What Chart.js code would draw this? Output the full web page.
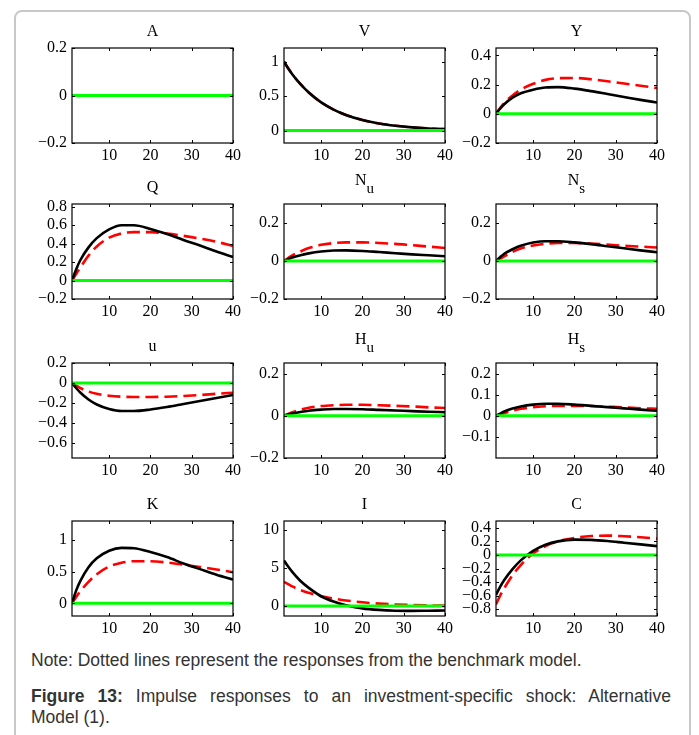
<!DOCTYPE html>
<html>
<head>
<meta charset="utf-8">
<script src="https://cdn.jsdelivr.net/npm/chart.js@4.4.1/dist/chart.umd.min.js"></script>
<style>
  body { margin: 0; background: #fff; width: 699px; height: 735px; overflow: hidden; position: relative; }
  #frame { position: absolute; left: 14px; top: 10px; width: 673px; height: 760px; border: 2px solid #c8c8c8; border-radius: 8px; }
  canvas { position: absolute; }
  .cap { position: absolute; left: 31px; width: 640px; font-family: "Liberation Sans", Arial, sans-serif; font-size: 17.5px; color: #333; }
  #note { top: 650px; line-height: 21px; }
  #fig { top: 686px; line-height: 21px; }
  #fig .l1 { display: block; text-align: justify; text-align-last: justify; }
</style>
</head>
<body>
<div id="frame"></div>
<canvas id="c0" width="225" height="160" style="left:20px;top:8px"></canvas>
<canvas id="c1" width="225" height="160" style="left:232px;top:8px"></canvas>
<canvas id="c2" width="225" height="160" style="left:444px;top:8px"></canvas>
<canvas id="c3" width="225" height="160" style="left:20px;top:164px"></canvas>
<canvas id="c4" width="225" height="160" style="left:232px;top:164px"></canvas>
<canvas id="c5" width="225" height="160" style="left:444px;top:164px"></canvas>
<canvas id="c6" width="225" height="160" style="left:20px;top:323px"></canvas>
<canvas id="c7" width="225" height="160" style="left:232px;top:323px"></canvas>
<canvas id="c8" width="225" height="160" style="left:444px;top:323px"></canvas>
<canvas id="c9" width="225" height="160" style="left:20px;top:481px"></canvas>
<canvas id="c10" width="225" height="160" style="left:232px;top:481px"></canvas>
<canvas id="c11" width="225" height="160" style="left:444px;top:481px"></canvas>
<div class="cap" id="note">Note: Dotted lines represent the responses from the benchmark model.</div>
<div class="cap" id="fig"><span class="l1"><b>Figure 13:</b> Impulse responses to an investment-specific shock: Alternative</span>Model (1).</div>
<script>
// периоды, в которых снимал значения с картинки
const periods = [1, 2, 3, 5, 7, 10, 13, 16, 20, 24, 28, 32, 36, 40];
const zeroLine = [0, 0, 0, 0, 0, 0, 0, 0, 0, 0, 0, 0, 0, 0];
const xTicks = [10, 20, 30, 40];

// alt = чёрная сплошная, bench = красная пунктирная
const altA = [0, 0, 0, 0, 0, 0, 0, 0, 0, 0, 0, 0, 0, 0];
const benchA = [0, 0, 0, 0, 0, 0, 0, 0, 0, 0, 0, 0, 0, 0];
const altV = [1, 0.906, 0.82, 0.674, 0.553, 0.41, 0.306, 0.228, 0.154, 0.103, 0.07, 0.047, 0.031, 0.021];
const benchV = [1, 0.906, 0.82, 0.674, 0.553, 0.41, 0.306, 0.228, 0.154, 0.103, 0.07, 0.047, 0.031, 0.021];
const altY = [0, 0.035, 0.065, 0.11, 0.14, 0.165, 0.18, 0.182, 0.172, 0.155, 0.135, 0.115, 0.095, 0.077];
const benchY = [0, 0.04, 0.075, 0.125, 0.165, 0.205, 0.232, 0.243, 0.245, 0.236, 0.222, 0.207, 0.192, 0.176];
const altQ = [0, 0.12, 0.22, 0.36, 0.46, 0.555, 0.6, 0.6, 0.56, 0.505, 0.44, 0.38, 0.315, 0.256];
const benchQ = [0, 0.07, 0.14, 0.27, 0.37, 0.465, 0.51, 0.525, 0.525, 0.51, 0.485, 0.455, 0.42, 0.375];
const altNu = [0, 0.01, 0.018, 0.03, 0.04, 0.05, 0.055, 0.056, 0.053, 0.047, 0.041, 0.035, 0.03, 0.025];
const benchNu = [0, 0.015, 0.03, 0.05, 0.068, 0.085, 0.094, 0.098, 0.098, 0.095, 0.09, 0.083, 0.076, 0.068];
const altNs = [0, 0.02, 0.038, 0.062, 0.08, 0.097, 0.104, 0.104, 0.098, 0.089, 0.078, 0.067, 0.056, 0.046];
const benchNs = [0, 0.012, 0.025, 0.048, 0.066, 0.082, 0.091, 0.095, 0.095, 0.092, 0.086, 0.08, 0.076, 0.071];
const altU = [0, -0.05, -0.095, -0.165, -0.215, -0.26, -0.28, -0.28, -0.265, -0.24, -0.21, -0.18, -0.15, -0.12];
const benchU = [0, -0.025, -0.05, -0.085, -0.108, -0.127, -0.137, -0.14, -0.14, -0.137, -0.13, -0.12, -0.108, -0.097];
const altHu = [0, 0.006, 0.011, 0.018, 0.024, 0.029, 0.032, 0.032, 0.031, 0.028, 0.025, 0.022, 0.019, 0.017];
const benchHu = [0, 0.009, 0.017, 0.029, 0.038, 0.046, 0.05, 0.052, 0.052, 0.05, 0.047, 0.044, 0.04, 0.037];
const altHs = [0, 0.01, 0.02, 0.034, 0.044, 0.053, 0.057, 0.057, 0.053, 0.047, 0.041, 0.035, 0.029, 0.024];
const benchHs = [0, 0.006, 0.012, 0.024, 0.033, 0.041, 0.045, 0.047, 0.047, 0.046, 0.043, 0.04, 0.036, 0.033];
const altK = [0, 0.2, 0.35, 0.57, 0.71, 0.83, 0.875, 0.87, 0.81, 0.73, 0.63, 0.54, 0.45, 0.375];
const benchK = [0, 0.1, 0.19, 0.34, 0.46, 0.58, 0.64, 0.665, 0.665, 0.645, 0.61, 0.575, 0.535, 0.49];
const altI = [6.0, 5.2, 4.5, 3.3, 2.4, 1.3, 0.6, 0.1, -0.3, -0.5, -0.6, -0.62, -0.6, -0.58];
const benchI = [3.2, 2.9, 2.6, 2.1, 1.75, 1.3, 1.0, 0.75, 0.5, 0.33, 0.22, 0.15, 0.1, 0.07];
const altC = [-0.59, -0.47, -0.37, -0.21, -0.08, 0.06, 0.15, 0.2, 0.225, 0.222, 0.205, 0.18, 0.155, 0.13];
const benchC = [-0.73, -0.6, -0.49, -0.3, -0.15, 0.02, 0.13, 0.2, 0.25, 0.278, 0.285, 0.275, 0.26, 0.24];

// подписи по оси y
const ticksA = [-0.2, 0, 0.2];
const ticksV = [0, 0.5, 1];
const ticksY = [-0.2, 0, 0.2, 0.4];
const ticksQ = [-0.2, 0, 0.2, 0.4, 0.6, 0.8];
const ticksN = [-0.2, 0, 0.2];
const ticksU = [-0.6, -0.4, -0.2, 0, 0.2];
const ticksHu = [-0.2, 0, 0.2];
const ticksHs = [-0.1, 0, 0.1, 0.2];
const ticksK = [0, 0.5, 1];
const ticksI = [0, 5, 10];
const ticksC = [-0.8, -0.6, -0.4, -0.2, 0, 0.2, 0.4];

const panels = [
  { title: 'A', alt: altA, bench: benchA, min: -0.2, max: 0.2, ticks: ticksA },
  { title: 'V', alt: altV, bench: benchV, min: -0.18, max: 1.2, ticks: ticksV },
  { title: 'Y', alt: altY, bench: benchY, min: -0.2, max: 0.45, ticks: ticksY },
  { title: 'Q', alt: altQ, bench: benchQ, min: -0.2, max: 0.83, ticks: ticksQ },
  { title: 'N', sub: 'u', alt: altNu, bench: benchNu, min: -0.2, max: 0.3, ticks: ticksN },
  { title: 'N', sub: 's', alt: altNs, bench: benchNs, min: -0.2, max: 0.3, ticks: ticksN },
  { title: 'u', alt: altU, bench: benchU, min: -0.75, max: 0.2, ticks: ticksU },
  { title: 'H', sub: 'u', alt: altHu, bench: benchHu, min: -0.2, max: 0.25, ticks: ticksHu },
  { title: 'H', sub: 's', alt: altHs, bench: benchHs, min: -0.2, max: 0.25, ticks: ticksHs },
  { title: 'K', alt: altK, bench: benchK, min: -0.2, max: 1.3, ticks: ticksK },
  { title: 'I', alt: altI, bench: benchI, min: -1.3, max: 11.2, ticks: ticksI },
  { title: 'C', alt: altC, bench: benchC, min: -0.9, max: 0.5, ticks: ticksC }
];

const SERIF = '"Liberation Serif", "Times New Roman", serif';

// рамка как в матлабе: коробка, засечки внутрь, заголовок с индексом
const boxPlugin = {
  id: 'box',
  afterDatasetsDraw(chart, args, opts) {
    const { ctx, chartArea: a } = chart;
    const x = chart.scales.x, y = chart.scales.y;
    ctx.save();
    ctx.strokeStyle = '#000';
    ctx.lineWidth = 1.2;
    ctx.strokeRect(a.left, a.top, a.right - a.left, a.bottom - a.top);
    ctx.lineWidth = 1;
    ctx.beginPath();
    x.ticks.forEach(t => {
      const px = Math.round(x.getPixelForValue(t.value)) + 0.5;
      ctx.moveTo(px, a.bottom); ctx.lineTo(px, a.bottom - 3);
      ctx.moveTo(px, a.top); ctx.lineTo(px, a.top + 3);
    });
    y.ticks.forEach(t => {
      const py = Math.round(y.getPixelForValue(t.value)) + 0.5;
      ctx.moveTo(a.left, py); ctx.lineTo(a.left + 3, py);
      ctx.moveTo(a.right, py); ctx.lineTo(a.right - 3, py);
    });
    ctx.stroke();

    ctx.fillStyle = '#000';
    ctx.textBaseline = 'middle';
    const cx = (a.left + a.right) / 2;
    ctx.font = '16px ' + SERIF;
    if (opts.sub) {
      const w1 = ctx.measureText(opts.text).width;
      ctx.font = '15px ' + SERIF;
      const w2 = ctx.measureText(opts.sub).width;
      const x0 = cx - (w1 + w2) / 2;
      ctx.textAlign = 'left';
      ctx.font = '16px ' + SERIF;
      ctx.fillText(opts.text, x0, a.top - 23);
      ctx.font = '15px ' + SERIF;
      ctx.fillText(opts.sub, x0 + w1, a.top - 15);
    } else {
      ctx.textAlign = 'center';
      ctx.fillText(opts.text, cx, a.top - 16);
    }
    ctx.restore();
  }
};

function minus(v) {
  return String(v).replace('-', '\u2212');
}

panels.forEach((p, i) => {
  new Chart(document.getElementById('c' + i), {
    type: 'line',
    data: {
      labels: periods,
      datasets: [
        { data: periods.map((t, k) => ({ x: t, y: zeroLine[k] })), borderColor: '#00ff00', borderWidth: 3 },
        { data: periods.map((t, k) => ({ x: t, y: p.alt[k] })), borderColor: '#000', borderWidth: 2.6 },
        { data: periods.map((t, k) => ({ x: t, y: p.bench[k] })), borderColor: '#ff0000', borderWidth: 2.6, borderDash: [13, 6] }
      ]
    },
    options: {
      responsive: false,
      devicePixelRatio: 1,
      animation: false,
      layout: { padding: { top: 40, left: 0, right: 12, bottom: 3 } },
      elements: { point: { radius: 0 }, line: { cubicInterpolationMode: 'monotone', fill: false } },
      plugins: {
        legend: { display: false },
        tooltip: { enabled: false },
        box: { text: p.title, sub: p.sub }
      },
      scales: {
        x: {
          type: 'linear', min: 1, max: 40,
          grid: { display: false, drawTicks: false },
          border: { display: false },
          ticks: { color: '#000', padding: 3, autoSkip: false, font: { family: SERIF, size: 16 }, maxRotation: 0, callback: v => minus(v) },
          afterBuildTicks: s => { s.ticks = xTicks.map(v => ({ value: v })); },
          afterFit: s => { s.height = 22; }
        },
        y: {
          min: p.min, max: p.max,
          grid: { display: false, drawTicks: false },
          border: { display: false },
          ticks: { color: '#000', padding: 5, autoSkip: false, font: { family: SERIF, size: 16 }, callback: v => minus(v) },
          afterBuildTicks: s => { s.ticks = p.ticks.map(v => ({ value: v })); },
          afterFit: s => { s.width = 52; }
        }
      }
    },
    plugins: [boxPlugin]
  });
});
</script>
</body>
</html>
